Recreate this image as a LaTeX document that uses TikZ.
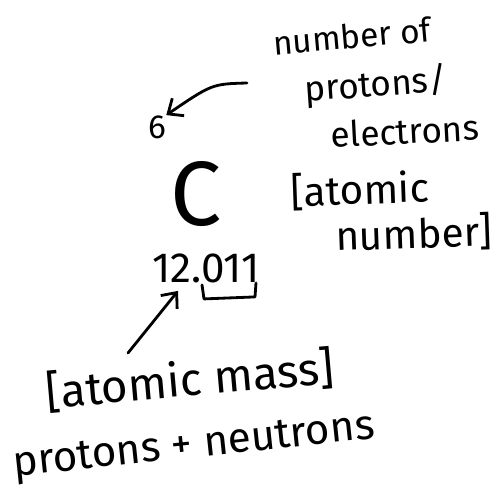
\documentclass[tikz,border=0pt]{standalone}
\usepackage{fontspec}
\setmainfont{Fira Sans}
\usetikzlibrary{arrows.meta}
\begin{document}
\begin{tikzpicture}[
  x=0.02cm, y=-0.02cm,
  note/.style={font=\fontsize{20}{24}\selectfont, inner sep=0pt},
  big/.style={font=\fontsize{24}{28}\selectfont, inner sep=0pt},
  pen/.style={line width=1.6pt, line cap=round, line join=round},
  arr/.style={pen, -{Straight Barb[length=7pt, width=12pt, line width=1.6pt]}},
]
\useasboundingbox (0,0) rectangle (500,492);

% the element box: number, symbol, mass
\node[note, font=\fontsize{19}{22}\selectfont]  (six)  at (157,127) {6};
\node[inner sep=0pt, font=\fontsize{52}{60}\selectfont] (sym) at (196,194) {C};
\node[big]                                      (mass) at (206,268) {12.011};

% right column: what the top number means
\node[note, font=\fontsize{19}{22}\selectfont, rotate=5] (num) at (352,36) {number of};
\node[note, rotate=4]  (prot) at (376,86)  {protons/};
\node[note, rotate=3]  (elec) at (405,131) {electrons};
\node[note, font=\fontsize{23}{26}\selectfont, rotate=2] (an1) at (360,190) {[atomic};
\node[note, font=\fontsize{23}{26}\selectfont, rotate=2] (an2) at (414,234) {number]};

% bottom: what the mass means
\node[note, font=\fontsize{26}{30}\selectfont, rotate=5] (am)  at (190,380) {[atomic mass]};
\node[note, font=\fontsize{24}{28}\selectfont, rotate=6] (pn)  at (194,448) {protons + neutrons};

% arrows
\coordinate (tail1) at (247,83);
\coordinate (tail2) at (128,353);
\draw[arr] (tail1) .. controls (212,84) .. (six.north east);
\draw[arr] (tail2) -- ([shift={(-28,8)}]mass.south);

% bracket under the decimals
\draw[pen] ([shift={(-4,2)}]mass.south) -- ([shift={(-2,16)}]mass.south)
  -- ([shift={(49,14)}]mass.south) -- ([shift={(50,0)}]mass.south);
\end{tikzpicture}
\end{document}
